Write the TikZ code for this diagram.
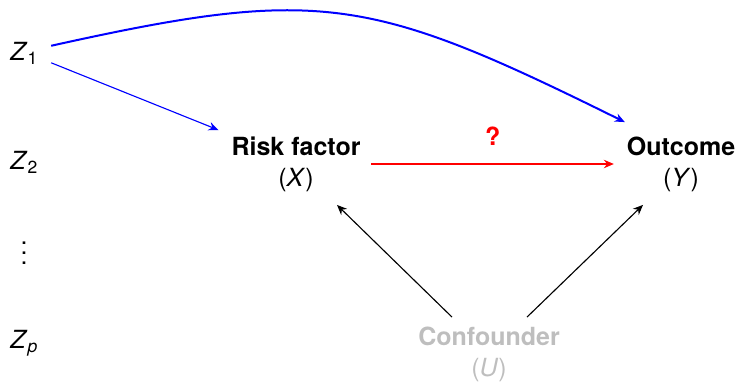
\documentclass[tikz,border=0pt]{standalone}
\usepackage{fontspec}
\setmainfont{TeX Gyre Heros}
\usetikzlibrary{arrows.meta}
\definecolor{confgray}{RGB}{190,190,190}
\tikzset{
  lbl/.style={inner sep=0pt, font=\fontsize{10}{12.4}\selectfont},
  var/.style={lbl, align=center},
  arr/.style={-{Stealth[length=4pt,width=3.4pt,inset=1.3pt]}, line width=0.45pt},
}
\begin{document}
\begin{tikzpicture}[x=0.4pt,y=-0.4pt]
\useasboundingbox (0,0) rectangle (740,385);
% left covariates
\node[lbl, anchor=base west] (z1) at (10,61) {\textit{Z}\textsubscript{1}};
\node[lbl, anchor=base west] (z2) at (10,170) {\textit{Z}\textsubscript{2}};
\node[lbl, anchor=south] (vd) at (24,265) {\vdots};
\node[lbl, anchor=base west] (zp) at (10,349) {\textit{Z}\textsubscript{\textit{p}}};
% main variables
\node[var] (risk) at (296,164) {\textbf{Risk factor}\\(\textit{X})};
\node[var] (out) at (681,164) {\textbf{Outcome}\\(\textit{Y})};
\node[var, text=confgray] (conf) at (489,354) {\textbf{Confounder}\\(\textit{U})};
% arrows
\draw[arr, blue, line width=0.8pt] ([shift={(12,-8)}]z1.east) .. controls (320,-14) and (370,-4) .. ([shift={(-1.5,-14)}]out.north west);
\draw[arr, blue] ([shift={(12,9)}]z1.east) -- ([shift={(-12.5,-6)}]risk.north west);
\draw[arr, red] ([xshift=10.5*0.4pt]risk.east) -- node[lbl, above=7pt, font=\fontsize{10}{12.4}\selectfont\bfseries] (q) {?} ([xshift=-12.5*0.4pt]out.west);
\draw[arr, black] ([shift={(-37,-9)}]conf.north) -- ([shift={(41,13)}]risk.south);
\draw[arr, black] ([shift={(38,-9)}]conf.north) -- ([shift={(-38,13)}]out.south);
\end{tikzpicture}
\end{document}
